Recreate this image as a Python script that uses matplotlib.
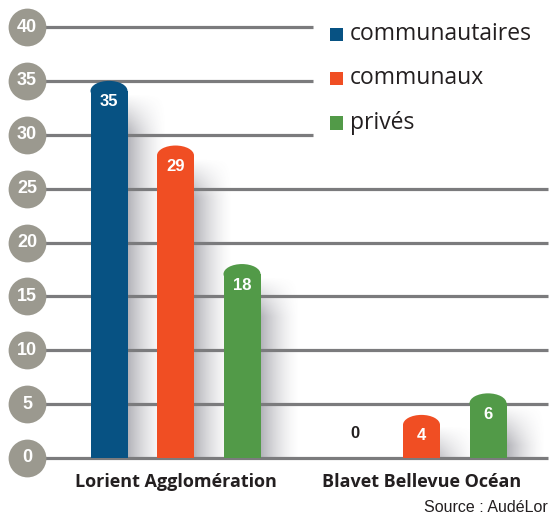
import numpy as np
import matplotlib
matplotlib.use("Agg")
import matplotlib.pyplot as plt
from matplotlib.patches import Rectangle, Ellipse

# ---- data ----
groups = ["Lorient Agglomération", "Blavet Bellevue Océan"]
series = ["communautaires", "communaux", "privés"]
values = {
    "communautaires": [35, 0],
    "communaux": [29, 4],
    "privés": [18, 6],
}
colors = {"communautaires": "#075283", "communaux": "#f04e23", "privés": "#529a48"}
yticks = [0, 5, 10, 15, 20, 25, 30, 35, 40]
source = "Source : AudéLor"

# ---- figure geometry (pixel based) ----
W, H = 550, 518
fig = plt.figure(figsize=(W / 100, H / 100), dpi=100)
ax = fig.add_axes([0, 0, 1, 1])
px_per_unit_y = (458 - 27) / 40.0
px_per_unit_x = 246.0
x0_px = 175.5
y0_px = 458

def ypx(v):
    return v / px_per_unit_y

def xpx(p):
    return p / px_per_unit_x

ax.set_xlim(-x0_px / px_per_unit_x, (W - x0_px) / px_per_unit_x)
ax.set_ylim(-(H - y0_px) / px_per_unit_y, 40 + 27 / px_per_unit_y)
ax.axis("off")

grid_c = "#7b7b7d"
circle_c = "#9b998f"
text_c = "#231f20"

# gridlines
x_left = xpx(40 - x0_px)
x_right = xpx(548 - x0_px)
x_short = xpx(313 - x0_px)
for t in yticks:
    xr = x_short if t >= 30 else x_right
    ax.plot([x_left, xr], [t, t], color=grid_c, lw=2.3, zorder=2, solid_capstyle="butt")
    ax.scatter([xpx(27 - x0_px)], [t], s=740, color=circle_c, zorder=4, linewidths=0)
    ax.text(xpx(27 - x0_px), t, str(t), color="white", fontsize=13, fontweight="bold",
            ha="center", va="center", zorder=5, family="Liberation Sans")

# bars
offsets = [-66.5, 0, 66.5]
bw = xpx(37)
cap_h = ypx(20)
shadow_w = xpx(40)
for si, s in enumerate(series):
    for gi, v in enumerate(values[s]):
        xc = gi + xpx(offsets[si])
        if v > 0:
            top = v
            body_top = top - cap_h / 2
            ax.add_patch(Rectangle((xc - bw / 2, 0), bw, body_top, color=colors[s], zorder=3, lw=0))
            ax.add_patch(Ellipse((xc, body_top), bw, cap_h, color=colors[s], zorder=3, lw=0))
            # shadow
            nx, ny = 40, 80
            gx = np.linspace(0, 1, nx)
            gy = np.linspace(0, 1, ny)[:, None]
            shadow_top = top - ypx(12)
            span = shadow_top
            fade_top = np.clip(gy * span / ypx(40), 0, 1)
            alpha = 0.45 * (1 - gx[None, :]) ** 1.6 * fade_top
            img = np.zeros((ny, nx, 4))
            img[..., 0] = 0.35
            img[..., 1] = 0.35
            img[..., 2] = 0.40
            img[..., 3] = alpha
            ax.imshow(img, extent=[xc + bw / 2, xc + bw / 2 + shadow_w, 0, shadow_top],
                      aspect="auto", zorder=1, interpolation="bilinear")
            ax.text(xc, top - ypx(21), str(v), color="white", fontsize=12, fontweight="bold",
                    ha="center", va="center", zorder=6, family="Liberation Sans")
        else:
            ax.text(xc, ypx(25), str(v), color=text_c, fontsize=12, fontweight="bold",
                    ha="center", va="center", zorder=6, family="Liberation Sans")

# group labels
for gi, g in enumerate(groups):
    ax.text(gi, ypx(-24), g, color=text_c, fontsize=13, fontweight="bold",
            ha="center", va="center", family="Open Sans")

# legend
leg_y_px = [34, 78, 123]
for s, yp in zip(series, leg_y_px):
    yv = (y0_px - yp) / px_per_unit_y
    sq = 13
    ax.add_patch(Rectangle((xpx(330 - x0_px), yv - ypx(sq / 2)), xpx(sq), ypx(sq),
                           color=colors[s], lw=0, zorder=5))
    ax.text(xpx(350 - x0_px), yv, s, color=text_c, fontsize=16.5, ha="left", va="center",
            family="Open Sans")

# source
ax.text(xpx(548 - x0_px), ypx(-49), source, color=text_c, fontsize=11.5, ha="right",
        va="center", family="Liberation Sans")

fig.savefig("out.png", dpi=100)
